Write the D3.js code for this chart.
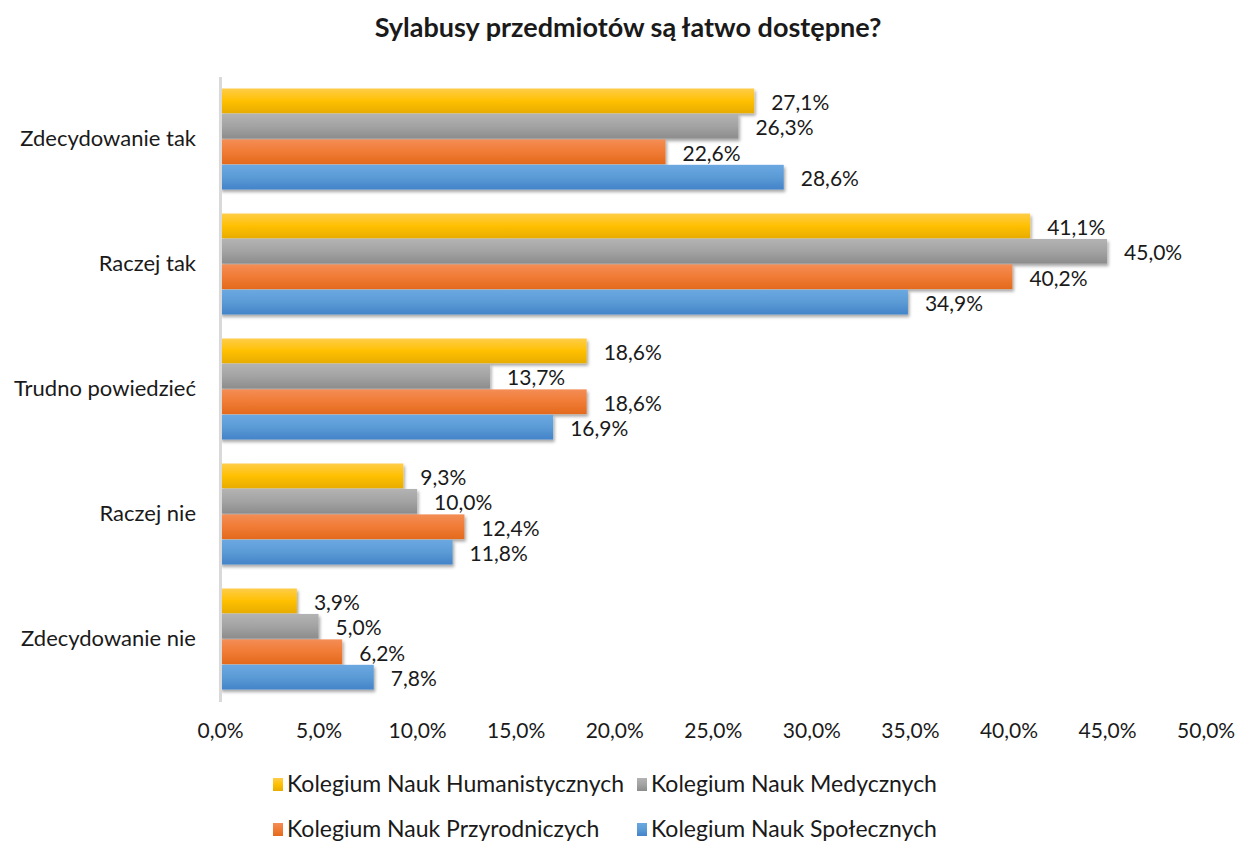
<!DOCTYPE html>
<html>
<head>
<meta charset="utf-8">
<script src="https://cdn.jsdelivr.net/npm/d3@7"></script>
<style>
  body { margin: 0; background: #fff; }
  svg text { font-family: Lato, "Open Sans", sans-serif; fill: #1a1a1a; }
</style>
</head>
<body>
<div class="container"></div>
<script>
const width = 1237,
    height = 841;

const title = 'Sylabusy przedmiotów są łatwo dostępne?';
const categories = ['Zdecydowanie tak', 'Raczej tak', 'Trudno powiedzieć', 'Raczej nie', 'Zdecydowanie nie'];
const seriesNames = ['Kolegium Nauk Humanistycznych', 'Kolegium Nauk Medycznych', 'Kolegium Nauk Przyrodniczych', 'Kolegium Nauk Społecznych'];
const humanistyczne = [27.1, 41.1, 18.6, 9.3, 3.9];
const medyczne = [26.3, 45.0, 13.7, 10.0, 5.0];
const przyrodnicze = [22.6, 40.2, 18.6, 12.4, 6.2];
const spoleczne = [28.6, 34.9, 16.9, 11.8, 7.8];
const tickValues = [0, 5, 10, 15, 20, 25, 30, 35, 40, 45, 50];

const seriesValues = [humanistyczne, medyczne, przyrodnicze, spoleczne];
const gradients = [
    ['#ffcd4a', '#ffc000', '#e8ac00'],
    ['#b3b3b3', '#a3a3a3', '#8c8c8c'],
    ['#f48d56', '#f07b35', '#e36a1d'],
    ['#6ba8e2', '#5b9bd5', '#4383c9']
];

const fmt = v => v.toFixed(1).replace('.', ',') + '%';

const svg = d3.select('.container')
    .append('svg')
    .attr('width', width)
    .attr('height', height);

const defs = svg.append('defs');

gradients.forEach((g, i) => {
    const lg = defs.append('linearGradient')
        .attr('id', 'grad' + i)
        .attr('x1', 0).attr('y1', 0)
        .attr('x2', 0).attr('y2', 1);
    lg.append('stop').attr('offset', '0%').attr('stop-color', g[0]);
    lg.append('stop').attr('offset', '50%').attr('stop-color', g[1]);
    lg.append('stop').attr('offset', '100%').attr('stop-color', g[2]);
});

defs.append('filter')
    .attr('id', 'shadow')
    .attr('x', '-5%').attr('y', '-20%')
    .attr('width', '115%').attr('height', '160%')
    .append('feDropShadow')
    .attr('dx', 1.5).attr('dy', 2.5)
    .attr('stdDeviation', 1.8)
    .attr('flood-color', '#000')
    .attr('flood-opacity', 0.35);

svg.append('text')
    .attr('x', 628)
    .attr('y', 37)
    .attr('text-anchor', 'middle')
    .style('font-size', '27px')
    .style('font-weight', 'bold')
    .text(title);

const x = d3.scaleLinear()
    .domain([0, 50])
    .range([220, 1205.6]);

const y = d3.scaleBand()
    .domain(categories)
    .range([76.5, 701.5])
    .paddingInner(0.18)
    .paddingOuter(0.09);

const ySub = d3.scaleBand()
    .domain(d3.range(seriesNames.length))
    .range([0, y.bandwidth()])
    .padding(0.03);

const groups = svg.append('g')
    .selectAll('g')
    .data(categories)
    .enter()
    .append('g')
    .attr('transform', d => `translate(0,${y(d)})`);

groups.selectAll('rect')
    .data((c, ci) => seriesValues.map((vals, si) => ({ si, v: vals[ci] })))
    .enter()
    .append('rect')
    .attr('x', x(0))
    .attr('y', d => ySub(d.si))
    .attr('width', d => x(d.v) - x(0))
    .attr('height', ySub.bandwidth())
    .attr('fill', d => `url(#grad${d.si})`)
    .attr('filter', 'url(#shadow)');

groups.selectAll('text')
    .data((c, ci) => seriesValues.map((vals, si) => ({ si, v: vals[ci] })))
    .enter()
    .append('text')
    .attr('x', d => x(d.v) + 17)
    .attr('y', d => ySub(d.si) + ySub.bandwidth() / 2 + 9)
    .style('font-size', '21px')
    .text(d => fmt(d.v));

// category axis
svg.append('g')
    .attr('transform', `translate(${x(0)},0)`)
    .call(d3.axisLeft(y).tickSize(0).tickPadding(24))
    .call(g => g.select('.domain').attr('stroke', '#d9d9d9').attr('stroke-width', 3))
    .call(g => g.selectAll('text').style('font-size', '22px').attr('fill', '#1a1a1a'));

// value axis labels
svg.append('g')
    .attr('transform', 'translate(0,719)')
    .call(d3.axisBottom(x).tickValues(tickValues).tickSize(0).tickPadding(4).tickFormat(fmt))
    .call(g => g.select('.domain').remove())
    .call(g => g.selectAll('text').style('font-size', '21px').attr('fill', '#1a1a1a'));

// legend
const legendPos = [[272, 784], [636, 784], [272, 829], [636, 829]];
const legend = svg.append('g')
    .selectAll('g')
    .data(seriesNames)
    .enter()
    .append('g')
    .attr('transform', (d, i) => `translate(${legendPos[i][0]},${legendPos[i][1]})`);

legend.append('rect')
    .attr('x', 1)
    .attr('y', -6)
    .attr('width', 10)
    .attr('height', 13)
    .attr('fill', (d, i) => `url(#grad${i})`);

legend.append('text')
    .attr('x', 15)
    .attr('y', 8)
    .style('font-size', '23px')
    .text(d => d);
</script>
</body>
</html>
